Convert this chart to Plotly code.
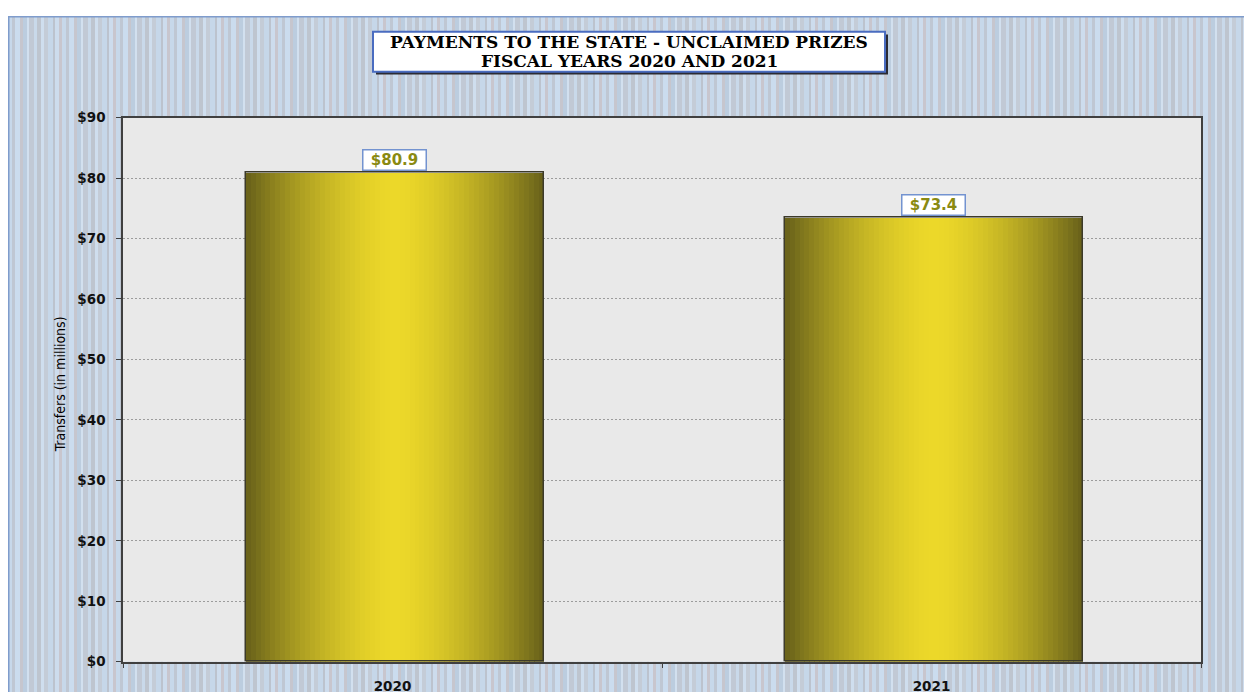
import plotly.graph_objects as go

# ---- data ----
categories = ["2020", "2021"]
values = [80.9, 73.4]
value_labels = ["$80.9", "$73.4"]
y_ticks = [0, 10, 20, 30, 40, 50, 60, 70, 80, 90]
y_tick_labels = ["$0", "$10", "$20", "$30", "$40", "$50", "$60", "$70", "$80", "$90"]
title_line1 = "PAYMENTS TO THE STATE - UNCLAIMED PRIZES"
title_line2 = "FISCAL YEARS 2020 AND 2021"
y_title = "Transfers (in millions)"

# figure sits inside the page body (8px margin), so use figure coords = page - 8
W, H = 1244, 692
OFF = 8
px0, px1 = 123 - OFF, 1201 - OFF   # plot area in px
py0, py1 = 112 - OFF, 669 - OFF


def fx(p):
    return p / W


def fy(p):
    return 1 - p / H


def hexrgb(h):
    h = h.lstrip("#")
    return tuple(int(h[i:i + 2], 16) for i in (0, 2, 4))


def lerp(c1, c2, t):
    a, b = hexrgb(c1), hexrgb(c2)
    return "rgb(%d,%d,%d)" % tuple(round(a[i] + (b[i] - a[i]) * t) for i in range(3))


fig = go.Figure()

# gradient bars built from slices
BAR_W = 0.553
N = 60
dark, bright = "#67601a", "#ecd829"
for i in range(N):
    t = (i + 0.5) / N
    d = abs(t - 0.5) * 2
    col = lerp(bright, dark, d ** 1.6)
    fig.add_trace(go.Bar(
        x=categories, y=values,
        width=BAR_W / N * 1.15,
        offset=-BAR_W / 2 + 0.004 + i * BAR_W / N,
        marker=dict(color=col, line=dict(width=0)),
        hoverinfo="skip", showlegend=False,
    ))

# outline
fig.add_trace(go.Bar(
    x=categories, y=values, width=BAR_W, offset=-BAR_W / 2 + 0.004,
    marker=dict(color="rgba(0,0,0,0)", line=dict(color="#3c3a2a", width=1.5)),
    showlegend=False,
))

shapes = []
# striped background
stripe_pattern = [
    (4, "#c7d8ea"), (3, "#bfc7d3"), (5, "#cbdcee"), (3, "#c6c6ce"), (4, "#bccddf"),
    (2, "#d2e0ef"), (5, "#c1c9d5"), (3, "#c9d9ea"), (4, "#bec5cf"), (3, "#cfdeee"),
    (4, "#c4ccd7"), (5, "#c6d7e9"), (2, "#bcc3ce"), (4, "#cddced"), (3, "#c8c6ce"),
]
x = 0
k = 0
while x < W:
    w, c = stripe_pattern[k % len(stripe_pattern)]
    shapes.append(dict(type="rect", xref="paper", yref="paper", layer="below",
                       x0=fx(x), x1=fx(min(x + w + 0.6, W)), y0=0, y1=1,
                       fillcolor=c, line=dict(width=0)))
    x += w
    k += 1
# outer border lines (top / left)
shapes.append(dict(type="line", xref="paper", yref="paper", layer="below",
                   x0=0, x1=1, y0=fy(0.75), y1=fy(0.75), line=dict(color="#7f9ccc", width=1.5)))
shapes.append(dict(type="line", xref="paper", yref="paper", layer="below",
                   x0=fx(0.75), x1=fx(0.75), y0=0, y1=1, line=dict(color="#7f9ccc", width=1.5)))
# plot area background
shapes.append(dict(type="rect", xref="paper", yref="paper", layer="below",
                   x0=fx(px0), x1=fx(px1), y0=fy(py1), y1=fy(py0),
                   fillcolor="#e9e9e9", line=dict(width=0)))
# title shadow and box
tb_x0, tb_x1, tb_y0, tb_y1 = 373 - OFF, 885 - OFF, 24 - OFF, 65 - OFF
shapes.append(dict(type="rect", xref="paper", yref="paper", layer="above",
                   x0=fx(tb_x0 + 3), x1=fx(tb_x1 + 3), y0=fy(tb_y1 + 3), y1=fy(tb_y0 + 3),
                   fillcolor="#2b2b33", line=dict(width=0)))
shapes.append(dict(type="rect", xref="paper", yref="paper", layer="above",
                   x0=fx(tb_x0), x1=fx(tb_x1), y0=fy(tb_y1), y1=fy(tb_y0),
                   fillcolor="#ffffff", line=dict(color="#4a6cc0", width=2)))

title_font = dict(family="DejaVu Serif, Liberation Serif, serif", size=17, color="#000000")
annotations = [
    dict(text="<b>" + title_line1 + "</b>", xref="paper", yref="paper",
         x=fx(629 - OFF), y=fy(34.3 - OFF), xanchor="center", yanchor="middle",
         showarrow=False, font=title_font),
    dict(text="<b>" + title_line2 + "</b>", xref="paper", yref="paper",
         x=fx(629 - OFF), y=fy(54.3 - OFF), xanchor="center", yanchor="middle",
         showarrow=False, font=title_font),
    dict(text=y_title, xref="paper", yref="paper", x=fx(60 - OFF), y=fy(385 - OFF),
         xanchor="center", yanchor="middle", textangle=-90, showarrow=False,
         font=dict(family="DejaVu Sans Condensed, Liberation Sans, sans-serif", size=14, color="#000000")),
]
# value labels (category index used as x, since names are numeric-looking)
for idx, (v, lab) in enumerate(zip(values, value_labels)):
    annotations.append(dict(
        x=idx, y=v, xref="x", yref="y", text="<b>" + lab + "</b>", showarrow=False,
        yanchor="bottom", yshift=2, xshift=2, width=60, height=17,
        font=dict(family="DejaVu Sans, Liberation Sans, sans-serif", size=15, color="#8a8a12"),
        bgcolor="#ffffff", bordercolor="#7393d0", borderwidth=1.5, borderpad=1,
    ))

tick_font = dict(family="DejaVu Sans, Liberation Sans, sans-serif", size=13.5, color="#111111")
fig.update_layout(
    width=W, height=H, autosize=False,
    margin=dict(l=0, r=0, t=0, b=0),
    paper_bgcolor="#ffffff", plot_bgcolor="rgba(0,0,0,0)",
    barmode="overlay", bargap=0,
    shapes=shapes, annotations=annotations,
    xaxis=dict(domain=[fx(px0), fx(px1)], type="category", range=[-0.5, 1.5],
               showline=True, linecolor="#404040", linewidth=1.5, mirror=True,
               ticks="outside", tickson="boundaries", ticklen=5, tickcolor="#404040",
               showgrid=False, ticklabelstandoff=11,
               tickfont=tick_font,
               tickvals=categories, ticktext=["<b>%s</b>" % c for c in categories]),
    yaxis=dict(domain=[fy(py1), fy(py0)], range=[0, 90],
               tickvals=y_ticks, ticktext=["<b>%s</b>" % t for t in y_tick_labels],
               showline=True, linecolor="#404040", linewidth=1.5, mirror=True,
               ticks="outside", ticklen=5, tickcolor="#404040",
               showgrid=True, gridcolor="#9c9c9c", griddash="2px,2px", gridwidth=1,
               zeroline=False, ticklabelstandoff=8,
               tickfont=tick_font),
)

fig.write_html("out.html")
